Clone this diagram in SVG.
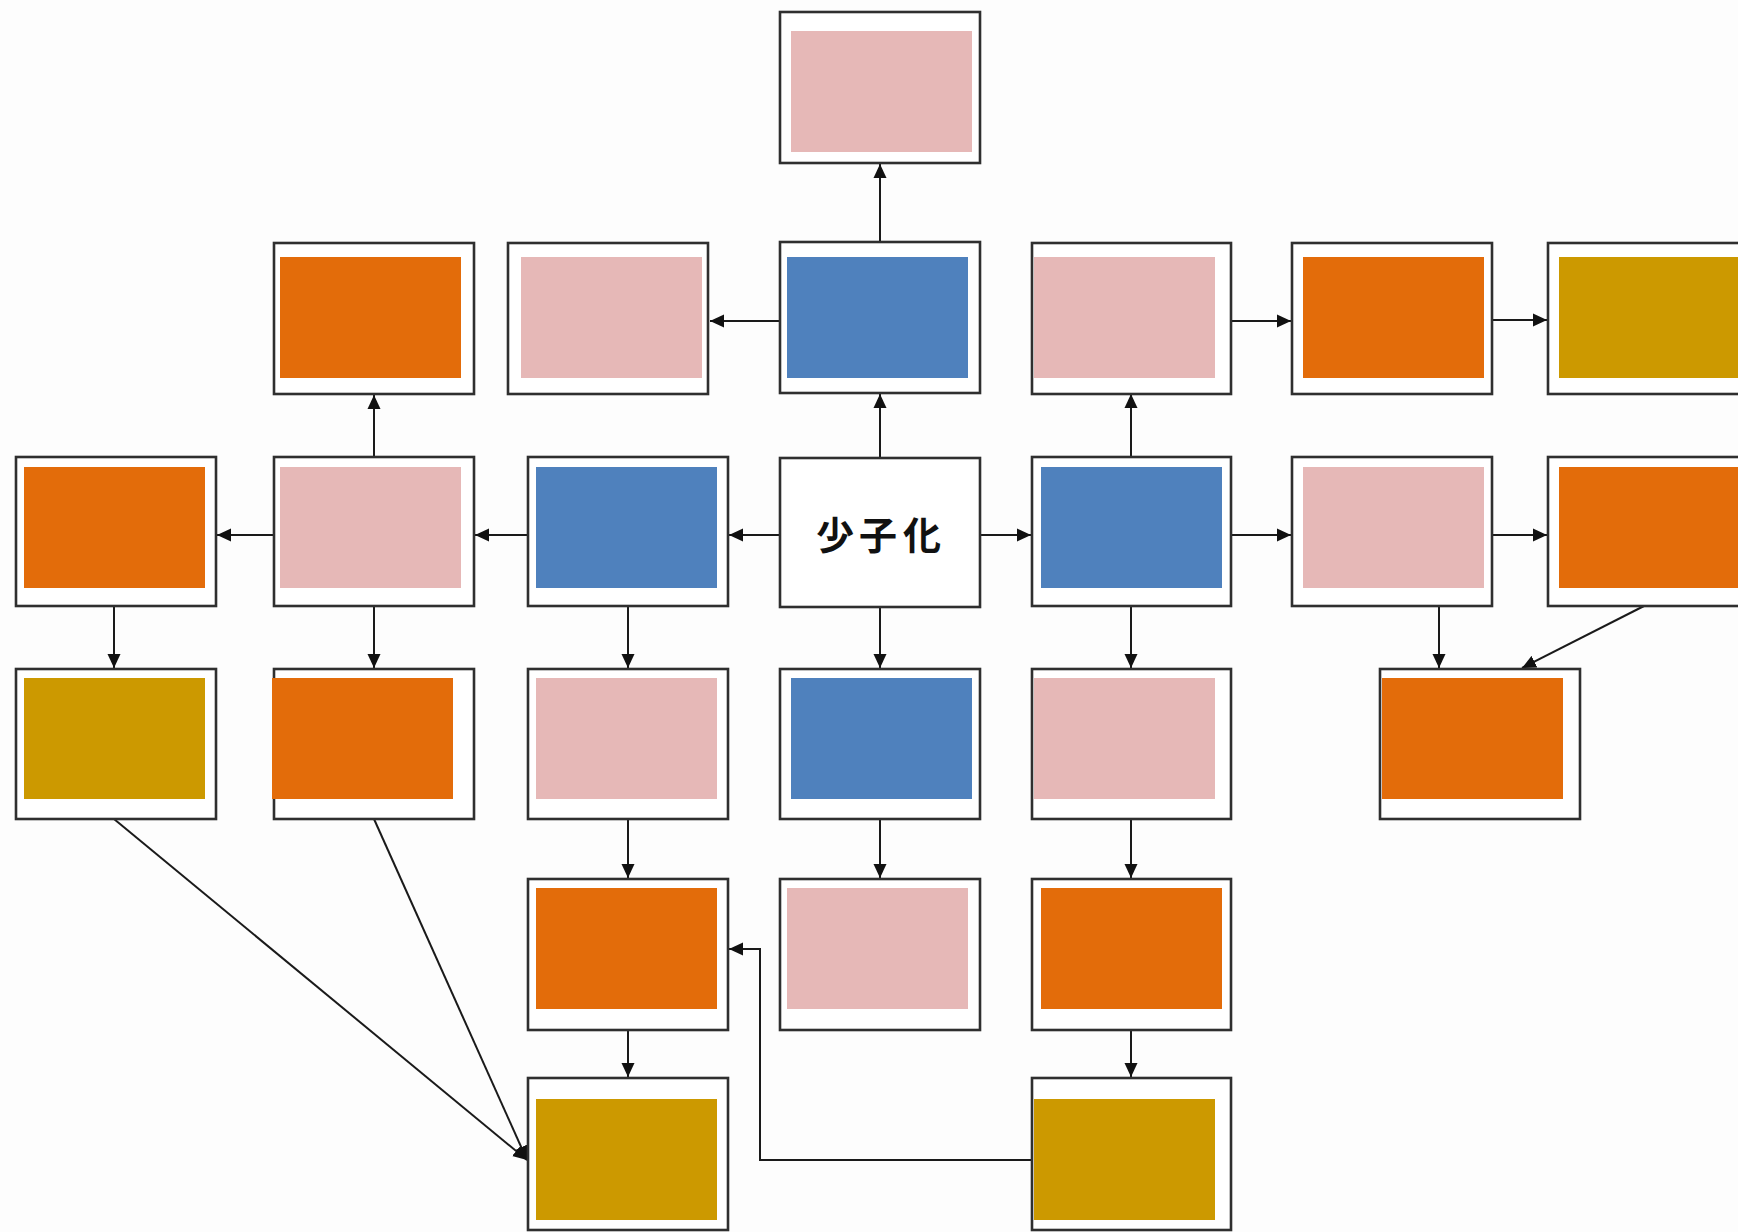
<svg xmlns="http://www.w3.org/2000/svg" width="1738" height="1232" viewBox="0 0 1738 1232">
<defs>
<style>
.box{fill:#ffffff;stroke:#2f2f2f;stroke-width:2.6}
.pk{fill:#E6B8B7}
.or{fill:#E36C0A}
.gd{fill:#CC9900}
.bl{fill:#4F81BD}
.cn{fill:none;stroke:#1a1a1a;stroke-width:2;marker-end:url(#ah)}
.lbl{font-family:"Noto Sans CJK JP","Noto Sans CJK SC",sans-serif;font-size:38px;font-weight:700;fill:#111;text-anchor:middle}
</style>
<marker id="ah" markerUnits="userSpaceOnUse" markerWidth="16" markerHeight="14" refX="14" refY="7" orient="auto">
<path d="M0,0.5 L14,7 L0,13.5 Z" fill="#111"/>
</marker>
</defs>
<rect x="0" y="0" width="1738" height="1232" fill="#fdfdfd"/>

<g id="connectors">
<line class="cn" x1="880" y1="242" x2="880" y2="164"/>
<line class="cn" x1="880" y1="458" x2="880" y2="394"/>
<line class="cn" x1="780" y1="321" x2="710" y2="321"/>
<line class="cn" x1="780" y1="535" x2="729" y2="535"/>
<line class="cn" x1="528" y1="535" x2="475" y2="535"/>
<line class="cn" x1="274" y1="535" x2="217" y2="535"/>
<line class="cn" x1="374" y1="458" x2="374" y2="395"/>
<line class="cn" x1="114" y1="606" x2="114" y2="668"/>
<line class="cn" x1="374" y1="606" x2="374" y2="668"/>
<line class="cn" x1="628" y1="606" x2="628" y2="668"/>
<line class="cn" x1="880" y1="607" x2="880" y2="668"/>
<line class="cn" x1="980" y1="535" x2="1031" y2="535"/>
<line class="cn" x1="1131" y1="458" x2="1131" y2="394"/>
<line class="cn" x1="1231" y1="321" x2="1291" y2="321"/>
<line class="cn" x1="1492" y1="320" x2="1547" y2="320"/>
<line class="cn" x1="1231" y1="535" x2="1291" y2="535"/>
<line class="cn" x1="1492" y1="535" x2="1547" y2="535"/>
<line class="cn" x1="1131" y1="606" x2="1131" y2="668"/>
<line class="cn" x1="1439" y1="606" x2="1439" y2="668"/>
<line class="cn" x1="1644" y1="606" x2="1522" y2="668"/>
<line class="cn" x1="628" y1="819" x2="628" y2="878"/>
<line class="cn" x1="880" y1="819" x2="880" y2="878"/>
<line class="cn" x1="1131" y1="819" x2="1131" y2="878"/>
<line class="cn" x1="628" y1="1030" x2="628" y2="1077"/>
<line class="cn" x1="1131" y1="1030" x2="1131" y2="1077"/>
<polyline class="cn" points="1032,1160 760,1160 760,949 729,949"/>
<line class="cn" x1="114" y1="819" x2="527" y2="1160"/>
<line class="cn" x1="374" y1="819" x2="527" y2="1160"/>
</g>

<g id="n-top"><rect class="box" x="780" y="12" width="200" height="151"/><rect class="pk" x="791" y="31" width="181" height="121"/></g>

<g id="n-r1-orange"><rect class="box" x="274" y="243" width="200" height="151"/><rect class="or" x="280" y="257" width="181" height="121"/></g>
<g id="n-r1-pink"><rect class="box" x="508" y="243" width="200" height="151"/><rect class="pk" x="521" y="257" width="181" height="121"/></g>
<g id="n-r1-blue"><rect class="box" x="780" y="242" width="200" height="151"/><rect class="bl" x="787" y="257" width="181" height="121"/></g>
<g id="n-r1-pink2"><rect class="box" x="1032" y="243" width="199" height="151"/><rect class="pk" x="1034" y="257" width="181" height="121"/></g>
<g id="n-r1-orange2"><rect class="box" x="1292" y="243" width="200" height="151"/><rect class="or" x="1303" y="257" width="181" height="121"/></g>
<g id="n-r1-gold"><rect class="box" x="1548" y="243" width="200" height="151"/><rect class="gd" x="1559" y="257" width="181" height="121"/></g>

<g id="n-r2-orange"><rect class="box" x="16" y="457" width="200" height="149"/><rect class="or" x="24" y="467" width="181" height="121"/></g>
<g id="n-r2-pink"><rect class="box" x="274" y="457" width="200" height="149"/><rect class="pk" x="280" y="467" width="181" height="121"/></g>
<g id="n-r2-blue"><rect class="box" x="528" y="457" width="200" height="149"/><rect class="bl" x="536" y="467" width="181" height="121"/></g>
<g id="n-center"><rect class="box" x="780" y="458" width="200" height="149"/><text class="lbl" x="835 878 922" y="549">少子化</text></g>
<g id="n-r2-blue2"><rect class="box" x="1032" y="457" width="199" height="149"/><rect class="bl" x="1041" y="467" width="181" height="121"/></g>
<g id="n-r2-pink2"><rect class="box" x="1292" y="457" width="200" height="149"/><rect class="pk" x="1303" y="467" width="181" height="121"/></g>
<g id="n-r2-orange2"><rect class="box" x="1548" y="457" width="200" height="149"/><rect class="or" x="1559" y="467" width="181" height="121"/></g>

<g id="n-r3-gold"><rect class="box" x="16" y="669" width="200" height="150"/><rect class="gd" x="24" y="678" width="181" height="121"/></g>
<g id="n-r3-orange"><rect class="box" x="274" y="669" width="200" height="150"/><rect class="or" x="272" y="678" width="181" height="121"/></g>
<g id="n-r3-pink"><rect class="box" x="528" y="669" width="200" height="150"/><rect class="pk" x="536" y="678" width="181" height="121"/></g>
<g id="n-r3-blue"><rect class="box" x="780" y="669" width="200" height="150"/><rect class="bl" x="791" y="678" width="181" height="121"/></g>
<g id="n-r3-pink2"><rect class="box" x="1032" y="669" width="199" height="150"/><rect class="pk" x="1034" y="678" width="181" height="121"/></g>
<g id="n-r3-orange2"><rect class="box" x="1380" y="669" width="200" height="150"/><rect class="or" x="1382" y="678" width="181" height="121"/></g>

<g id="n-r4-orange"><rect class="box" x="528" y="879" width="200" height="151"/><rect class="or" x="536" y="888" width="181" height="121"/></g>
<g id="n-r4-pink"><rect class="box" x="780" y="879" width="200" height="151"/><rect class="pk" x="787" y="888" width="181" height="121"/></g>
<g id="n-r4-orange2"><rect class="box" x="1032" y="879" width="199" height="151"/><rect class="or" x="1041" y="888" width="181" height="121"/></g>

<g id="n-r5-gold"><rect class="box" x="528" y="1078" width="200" height="152"/><rect class="gd" x="536" y="1099" width="181" height="121"/></g>
<g id="n-r5-gold2"><rect class="box" x="1032" y="1078" width="199" height="152"/><rect class="gd" x="1034" y="1099" width="181" height="121"/></g>
</svg>
